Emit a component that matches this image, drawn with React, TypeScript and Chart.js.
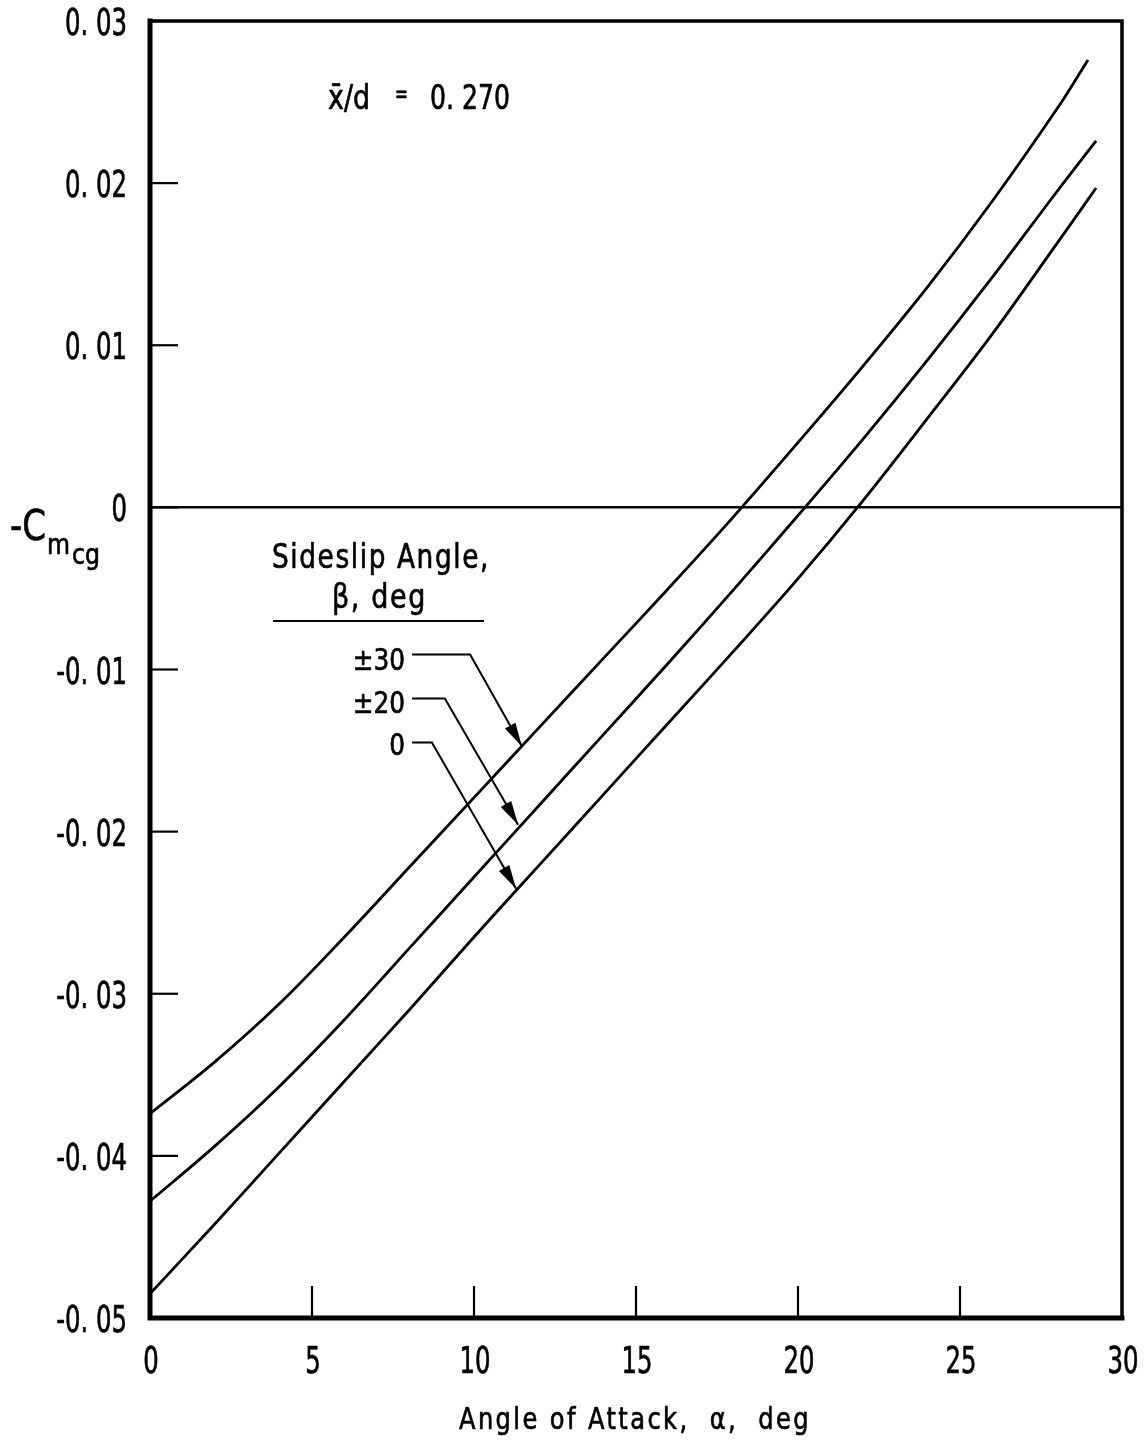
import React, { useEffect, useRef } from "react";
import { Chart, registerables } from "chart.js";
Chart.register(...registerables);

// ---- data ----
const seriesNames = ["±30", "±20", "0"];
const alphaTop = [0, 2, 4, 6, 8, 10, 12, 14, 16, 18, 20, 22, 24, 26, 28, 28.95];
const cmTop = [-0.0374, -0.0342, -0.0306, -0.0265, -0.0222, -0.0179, -0.0136, -0.0093, -0.005, -0.0006, 0.004, 0.0087, 0.0136, 0.0189, 0.0246, 0.0276];
const alphaMid = [0, 2, 4, 6, 8, 10, 12, 14, 16, 18, 20, 22, 24, 26, 28, 29.2];
const cmMid = [-0.0428, -0.0394, -0.0357, -0.0316, -0.0272, -0.0228, -0.0184, -0.014, -0.0096, -0.0051, -0.0005, 0.0042, 0.0091, 0.0142, 0.0195, 0.0226];
const alphaBot = [0, 2, 4, 6, 8, 10, 12, 14, 16, 18, 20, 22, 24, 26, 28, 29.2];
const cmBot = [-0.0485, -0.0442, -0.0398, -0.0354, -0.031, -0.0265, -0.0221, -0.0177, -0.0133, -0.0089, -0.0044, 0.0004, 0.0055, 0.0107, 0.0163, 0.0197];

const xTickValues = [0, 5, 10, 15, 20, 25, 30];
const xTickLabels = ["0", "5", "10", "15", "20", "25", "30"];
const yTickValues = [-0.05, -0.04, -0.03, -0.02, -0.01, 0, 0.01, 0.02, 0.03];
const yTickLabels = ["-0. 05", "-0. 04", "-0. 03", "-0. 02", "-0. 01", "0", "0. 01", "0. 02", "0. 03"];

// leader lines (data coords): [start, corner, tip]
const leaderStart = [[8.09, -0.00907], [8.09, -0.01179], [8.09, -0.01451]];
const leaderCorner = [[9.88, -0.00907], [9.1, -0.01179], [8.7, -0.01451]];
const leaderTip = [[11.48, -0.01475], [11.36, -0.01957], [11.3, -0.02352]];

const FONT = "'DejaVu Sans', 'Liberation Sans', sans-serif";

function toPts(xs: number[], ys: number[]) {
  return xs.map((x, i) => ({ x, y: ys[i] }));
}

// draw text condensed horizontally by factor sx, slightly emboldened
function drawText(ctx: CanvasRenderingContext2D, text: string, x: number, baseline: number, size: number, sx: number, align: "left" | "right" | "center" = "left", spacing = 0) {
  ctx.save();
  ctx.font = `${size}px ${FONT}`;
  (ctx as any).letterSpacing = `${spacing}px`;
  const w = ctx.measureText(text).width * sx;
  let x0 = x;
  if (align === "right") x0 = x - w;
  else if (align === "center") x0 = x - w / 2;
  ctx.translate(x0, baseline);
  ctx.scale(sx, 1);
  ctx.textAlign = "left";
  ctx.textBaseline = "alphabetic";
  ctx.fillStyle = "#000";
  ctx.strokeStyle = "#000";
  ctx.lineWidth = 0.7;
  ctx.lineJoin = "round";
  ctx.fillText(text, 0, 0);
  ctx.strokeText(text, 0, 0);
  ctx.restore();
}

function fitText(ctx: CanvasRenderingContext2D, text: string, x: number, baseline: number, size: number, width: number, spacing = 0) {
  ctx.save();
  ctx.font = `${size}px ${FONT}`;
  (ctx as any).letterSpacing = `${spacing}px`;
  const w = ctx.measureText(text).width;
  ctx.restore();
  drawText(ctx, text, x, baseline, size, width / w, "left", spacing);
}

const decorPlugin = {
  id: "decor",
  afterDraw(chart: any) {
    const ctx: CanvasRenderingContext2D = chart.ctx;
    const { left, right, top, bottom } = chart.chartArea;
    const xs = chart.scales.x;
    const ys = chart.scales.y;
    ctx.save();
    ctx.strokeStyle = "#000";
    ctx.fillStyle = "#000";
    // frame
    ctx.lineCap = "square";
    ctx.lineWidth = 3.5;
    ctx.beginPath();
    ctx.moveTo(left, top);
    ctx.lineTo(right, top);
    ctx.lineTo(right, bottom);
    ctx.stroke();
    ctx.lineWidth = 5;
    ctx.beginPath();
    ctx.moveTo(left, top);
    ctx.lineTo(left, bottom);
    ctx.lineTo(right, bottom);
    ctx.stroke();
    ctx.lineCap = "butt";
    // inward ticks
    ctx.lineWidth = 2.2;
    yTickValues.forEach((v) => {
      if (v <= ys.min + 1e-9 || v >= ys.max - 1e-9) return;
      const py = ys.getPixelForValue(v);
      ctx.beginPath();
      ctx.moveTo(left, py);
      ctx.lineTo(left + 28, py);
      ctx.stroke();
    });
    xTickValues.forEach((v) => {
      if (v <= xs.min + 1e-9 || v >= xs.max - 1e-9) return;
      const px = xs.getPixelForValue(v);
      ctx.beginPath();
      ctx.moveTo(px, bottom);
      ctx.lineTo(px, bottom - 32);
      ctx.stroke();
    });
    // tick labels
    ctx.font = `37px ${FONT}`;
    const tsx = 62 / ctx.measureText("0. 03").width;
    yTickValues.forEach((v, i) => {
      const py = ys.getPixelForValue(v);
      drawText(ctx, yTickLabels[i], left - 23, py + 14, 37, tsx, "right");
    });
    xTickValues.forEach((v, i) => {
      const px = xs.getPixelForValue(v);
      drawText(ctx, xTickLabels[i], px + 1, bottom + 55, 37, tsx, "center");
    });
    // leader lines with arrowheads
    ctx.lineWidth = 2;
    for (let i = 0; i < seriesNames.length; i++) {
      const s = [xs.getPixelForValue(leaderStart[i][0]), ys.getPixelForValue(leaderStart[i][1])];
      const c = [xs.getPixelForValue(leaderCorner[i][0]), ys.getPixelForValue(leaderCorner[i][1])];
      const t = [xs.getPixelForValue(leaderTip[i][0]), ys.getPixelForValue(leaderTip[i][1])];
      ctx.beginPath();
      ctx.moveTo(s[0], s[1]);
      ctx.lineTo(c[0], c[1]);
      ctx.lineTo(t[0], t[1]);
      ctx.stroke();
      const ang = Math.atan2(t[1] - c[1], t[0] - c[0]);
      const L = 24, H = 6;
      const bx = t[0] - L * Math.cos(ang), by = t[1] - L * Math.sin(ang);
      ctx.beginPath();
      ctx.moveTo(t[0], t[1]);
      ctx.lineTo(bx + H * Math.sin(ang), by - H * Math.cos(ang));
      ctx.lineTo(bx - H * Math.sin(ang), by + H * Math.cos(ang));
      ctx.closePath();
      ctx.fill();
    }
    // legend texts
    fitText(ctx, "Sideslip Angle,", 272, 568, 33, 218, 2);
    fitText(ctx, "β, deg", 332, 608, 33, 95, 2);
    ctx.lineWidth = 2;
    ctx.beginPath();
    ctx.moveTo(273, 621);
    ctx.lineTo(484, 621);
    ctx.stroke();
    drawText(ctx, seriesNames[0], 405, 670, 31, 0.8, "right");
    drawText(ctx, seriesNames[1], 405, 713, 31, 0.8, "right");
    drawText(ctx, seriesNames[2], 405, 755, 31, 0.8, "right");
    // annotation
    fitText(ctx, "x̄/d", 328, 109, 33, 42);
    fitText(ctx, "=", 395, 103, 26, 13);
    fitText(ctx, "0. 270", 430, 109, 34, 80);
    // y-axis label
    fitText(ctx, "-C", 10, 540, 42, 36);
    fitText(ctx, "m", 47, 554, 29, 23);
    fitText(ctx, "cg", 72, 564, 29, 28);
    // x-axis title
    fitText(ctx, "Angle of Attack,  α,  deg", 459, 1429, 30, 352, 3);
    ctx.restore();
  },
};

export default function App() {
  const ref = useRef<HTMLCanvasElement | null>(null);
  useEffect(() => {
    if (!ref.current) return;
    const lineStyle = {
      borderColor: "#000",
      borderWidth: 2.8,
      pointRadius: 0,
      fill: false,
      tension: 0.35,
    };
    const chart = new Chart(ref.current, {
      type: "line",
      data: {
        datasets: [
          { label: seriesNames[0], data: toPts(alphaTop, cmTop), ...lineStyle },
          { label: seriesNames[1], data: toPts(alphaMid, cmMid), ...lineStyle },
          { label: seriesNames[2], data: toPts(alphaBot, cmBot), ...lineStyle },
        ],
      },
      options: {
        animation: false,
        responsive: false,
        events: [],
        layout: { padding: { left: 0, top: 21, right: 23, bottom: 0 } },
        plugins: { legend: { display: false }, tooltip: { enabled: false }, title: { display: false } },
        scales: {
          x: {
            type: "linear",
            min: 0,
            max: 30,
            afterFit: (axis: any) => {
              axis.height = 124;
              axis.paddingLeft = 0;
              axis.paddingRight = 0;
            },
            afterBuildTicks: (axis: any) => { axis.ticks = xTickValues.map((v) => ({ value: v })); },
            ticks: { display: false },
            grid: { display: false, drawTicks: false },
            border: { display: false },
          },
          y: {
            type: "linear",
            min: -0.05,
            max: 0.03,
            afterFit: (axis: any) => {
              axis.width = 150;
              axis.paddingTop = 0;
              axis.paddingBottom = 0;
            },
            afterBuildTicks: (axis: any) => { axis.ticks = yTickValues.map((v) => ({ value: v })); },
            ticks: { display: false },
            grid: {
              drawTicks: false,
              lineWidth: 2.5,
              color: (c: any) => (c.tick && Math.abs(c.tick.value) < 1e-9 ? "#000" : "rgba(0,0,0,0)"),
            },
            border: { display: false },
          },
        },
      },
      plugins: [decorPlugin],
    });
    return () => chart.destroy();
  }, []);
  return (
    <div style={{ position: "absolute", left: 0, top: 0, width: 1145, height: 1442, background: "#fff" }}>
      <canvas ref={ref} width={1145} height={1442} style={{ width: 1145, height: 1442, display: "block" }} />
    </div>
  );
}
